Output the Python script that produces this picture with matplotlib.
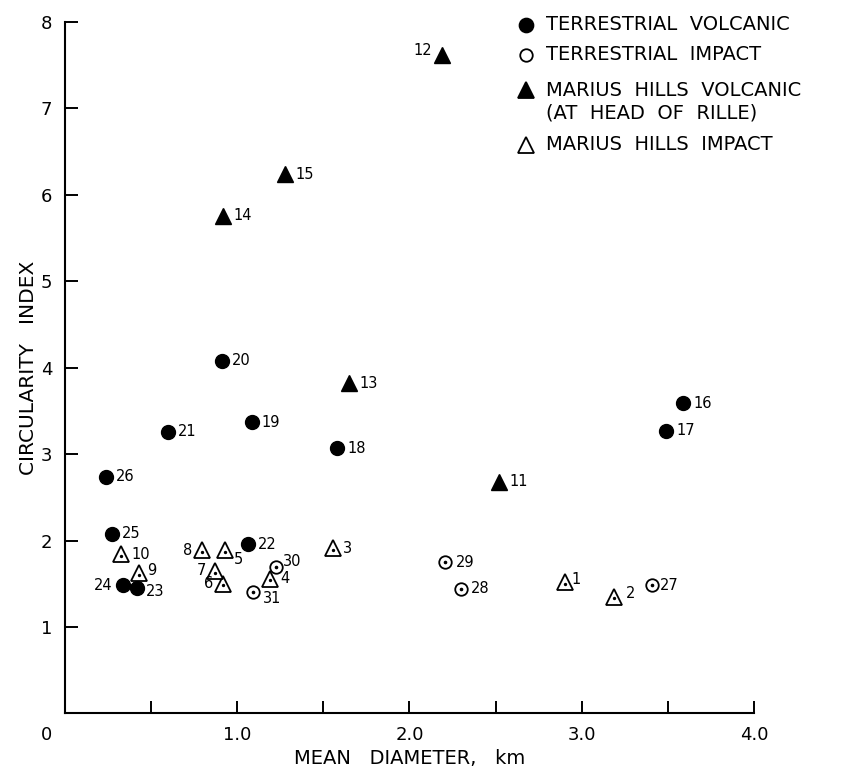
import matplotlib
matplotlib.use("Agg")
import matplotlib.pyplot as plt
import numpy as np

plt.rcParams['font.family'] = ['DejaVu Sans']

# terrestrial volcanic (filled circles)
tv_id = [16, 17, 18, 19, 20, 21, 22, 23, 24, 25, 26]
tv_x = [3.59, 3.49, 1.58, 1.085, 0.91, 0.60, 1.06, 0.42, 0.335, 0.27, 0.24]
tv_y = [3.59, 3.27, 3.07, 3.37, 4.08, 3.26, 1.96, 1.45, 1.48, 2.08, 2.74]

# terrestrial impact (open circles)
ti_id = [27, 28, 29, 30, 31]
ti_x = [3.41, 2.30, 2.205, 1.225, 1.09]
ti_y = [1.48, 1.44, 1.75, 1.69, 1.40]

# marius hills volcanic (filled triangles)
mv_id = [11, 12, 13, 14, 15]
mv_x = [2.52, 2.19, 1.65, 0.92, 1.28]
mv_y = [2.68, 7.62, 3.82, 5.76, 6.24]

# marius hills impact (open triangles)
mi_id = [1, 2, 3, 4, 5, 6, 7, 8, 9, 10]
mi_x = [2.90, 3.19, 1.555, 1.19, 0.93, 0.92, 0.87, 0.795, 0.43, 0.325]
mi_y = [1.52, 1.35, 1.91, 1.56, 1.89, 1.50, 1.65, 1.89, 1.62, 1.84]

# label offsets in pixels (dx, dy, ha), default is right of the marker
lab_off = {
    1: (7, 3, 'left'), 2: (11, 3, 'left'), 5: (9, -9, 'left'),
    6: (-10, 0, 'right'), 7: (-9, 0, 'right'), 8: (-10, 0, 'right'),
    9: (8, 3, 'left'), 12: (-10, 4, 'right'), 23: (9, -3, 'left'),
    24: (-10, 0, 'right'), 27: (8, 0, 'left'), 29: (11, 0, 'left'),
    30: (7, 6, 'left'), 31: (10, -6, 'left'),
}

fig = plt.figure(figsize=(8.45, 7.71), dpi=100)
ax = fig.add_axes([65/845, 57.6/771, (754-65)/845, (713.4-22)/771])
ax.set_xlim(0, 4.0)
ax.set_ylim(0, 8)

ax.plot(tv_x, tv_y, 'o', ms=10, color='black', ls='none')
ax.plot(ti_x, ti_y, 'o', ms=9, mfc='white', mec='black', mew=1.3, ls='none')
ax.plot(ti_x, ti_y, 'o', ms=1.6, color='black', ls='none')
ax.plot(mv_x, mv_y, '^', ms=11, color='black', ls='none')
ax.plot(mi_x, mi_y, '^', ms=11, mfc='white', mec='black', mew=1.3, ls='none')
ax.plot(mi_x, np.array(mi_y) - 0.02, 'o', ms=1.4, color='black', ls='none')

px = 72 / 100
for ids, xs, ys in [(tv_id, tv_x, tv_y), (ti_id, ti_x, ti_y),
                    (mv_id, mv_x, mv_y), (mi_id, mi_x, mi_y)]:
    for i, x, y in zip(ids, xs, ys):
        dx, dy, ha = lab_off.get(i, (10, 0, 'left'))
        ax.annotate(str(i), (x, y), xytext=(dx*px, dy*px), textcoords='offset points',
                    ha=ha, va='center', fontsize=10.5)

for s in ['top', 'right']:
    ax.spines[s].set_visible(False)
for s in ['left', 'bottom']:
    ax.spines[s].set_linewidth(1.5)

ax.set_xticks([0, 0.5, 1.0, 1.5, 2.0, 2.5, 3.0, 3.5, 4.0])
ax.set_xticklabels(['', '', '1.0', '', '2.0', '', '3.0', '', '4.0'], fontsize=13)
ax.set_yticks([1, 2, 3, 4, 5, 6, 7, 8])
ax.set_yticklabels(['1', '2', '3', '4', '5', '6', '7', '8'], fontsize=13)
ax.tick_params(direction='in', length=9, width=1.4, pad=9)
ax.text(-0.105, -0.25, '0', ha='center', va='center', fontsize=13, clip_on=False)

ax.set_xlabel('MEAN   DIAMETER,   km', fontsize=14, labelpad=4)
ax.set_ylabel('CIRCULARITY   INDEX', fontsize=14.5, labelpad=2)

# legend drawn by hand
lx, tx = 526/845, 546/845
rows = [(25, 'o', 'black', 'TERRESTRIAL  VOLCANIC', 10),
        (55, 'o', 'white', 'TERRESTRIAL  IMPACT', 9),
        (90, '^', 'black', 'MARIUS  HILLS  VOLCANIC', 11),
        (145, '^', 'white', 'MARIUS  HILLS  IMPACT', 11)]
for ry, m, fc, txt, ms in rows:
    yy = 1 - ry/771
    fig.add_artist(plt.Line2D([lx], [yy], marker=m, ms=ms, mfc=fc, mec='black',
                              mew=1.3, ls='none', transform=fig.transFigure))
    fig.text(tx, yy, txt, ha='left', va='center', fontsize=14)
fig.text(tx, 1 - 113/771, '(AT  HEAD  OF  RILLE)', ha='left', va='center', fontsize=14)

fig.savefig('out.png', dpi=100)
